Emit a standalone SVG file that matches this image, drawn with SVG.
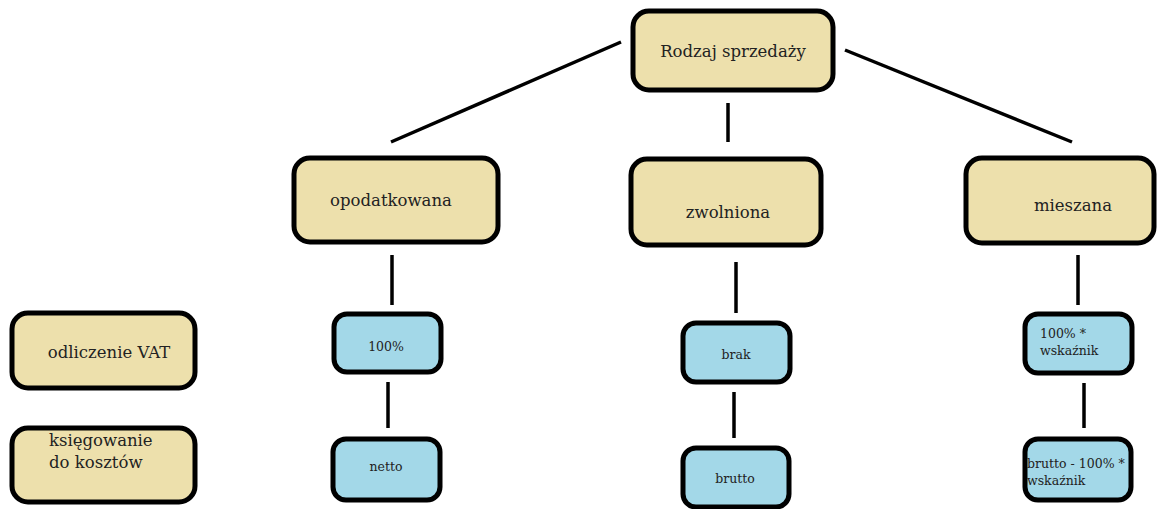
<svg xmlns="http://www.w3.org/2000/svg" width="1159" height="509" viewBox="0 0 1159 509">
<style>
.tan{fill:#EDE0AC;stroke:#000;stroke-width:5}
.blue{fill:#A3D8E8;stroke:#000;stroke-width:5}
.lbl{font-family:"DejaVu Serif","Liberation Serif",serif;font-size:16.5px;fill:#222}
.sm{font-family:"DejaVu Serif","Liberation Serif",serif;font-size:12.5px;fill:#222}
.c{text-anchor:middle}
#connectors line{stroke:#000;stroke-width:3.5}
</style>
<rect width="1159" height="509" fill="#fff"/>
<g id="connectors">
<line x1="621" y1="42" x2="391" y2="142"/>
<line x1="728" y1="103" x2="728" y2="142"/>
<line x1="845" y1="50" x2="1072" y2="142"/>
<line x1="392" y1="255" x2="392" y2="305"/>
<line x1="388" y1="382" x2="388" y2="428"/>
<line x1="736" y1="262" x2="736" y2="313"/>
<line x1="734" y1="392" x2="734" y2="438"/>
<line x1="1078" y1="255" x2="1078" y2="305"/>
<line x1="1084" y1="383" x2="1084" y2="428"/>
</g>
<g id="n-rodzaj"><rect class="tan" x="633" y="11" width="200" height="79" rx="16"/><text class="lbl c" x="733" y="57">Rodzaj sprzedaży</text></g>
<g id="n-opod"><rect class="tan" x="294" y="158" width="204" height="84" rx="16"/><text class="lbl c" x="391" y="206">opodatkowana</text></g>
<g id="n-zwol"><rect class="tan" x="631" y="159" width="190" height="86" rx="16"/><text class="lbl c" x="728" y="218">zwolniona</text></g>
<g id="n-miesz"><rect class="tan" x="966" y="158" width="188" height="85" rx="16"/><text class="lbl c" x="1073" y="211">mieszana</text></g>
<g id="n-odl"><rect class="tan" x="12" y="313" width="183" height="75" rx="16"/><text class="lbl c" x="109" y="358">odliczenie VAT</text></g>
<g id="n-ksieg"><rect class="tan" x="12" y="428" width="183" height="74" rx="16"/><text class="lbl" x="49" y="446">księgowanie</text><text class="lbl" x="49" y="468">do kosztów</text></g>
<g id="n-100"><rect class="blue" x="334" y="314" width="107" height="58" rx="13"/><text class="sm c" x="386" y="351">100%</text></g>
<g id="n-netto"><rect class="blue" x="333" y="439" width="107" height="61" rx="13"/><text class="sm c" x="386" y="471">netto</text></g>
<g id="n-brak"><rect class="blue" x="683" y="323" width="107" height="59" rx="13"/><text class="sm c" x="736" y="359">brak</text></g>
<g id="n-brutto"><rect class="blue" x="683" y="448" width="106" height="59" rx="13"/><text class="sm c" x="735" y="483">brutto</text></g>
<g id="n-wsk"><rect class="blue" x="1025" y="314" width="107" height="59" rx="13"/><text class="sm" x="1040" y="338">100% *</text><text class="sm" x="1040" y="355">wskaźnik</text></g>
<g id="n-bwsk"><rect class="blue" x="1025" y="439" width="106" height="61" rx="13"/><text class="sm" x="1027" y="468">brutto - 100% *</text><text class="sm" x="1027" y="485">wskaźnik</text></g>
</svg>
